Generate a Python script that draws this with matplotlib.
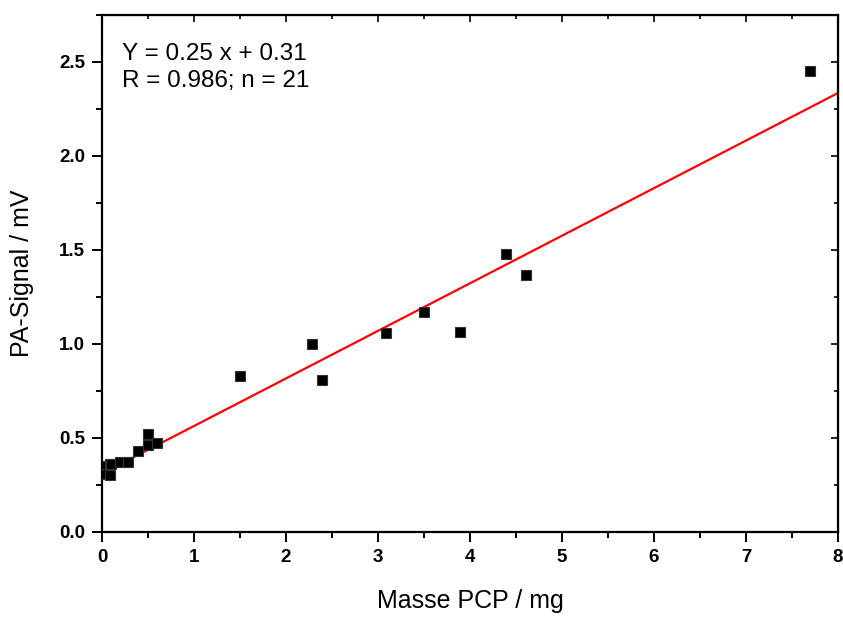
import numpy as np
import matplotlib.pyplot as plt
from matplotlib.ticker import MultipleLocator

plt.rcParams['font.family'] = ['Liberation Sans', 'DejaVu Sans']

# donnees
masse = [0.0, 0.01, 0.03, 0.09, 0.09, 0.1, 0.2, 0.28, 0.39, 0.5, 0.5, 0.6,
         1.5, 2.28, 2.39, 3.09, 3.5, 3.89, 4.39, 4.61, 7.7]
signal = [0.33, 0.35, 0.31, 0.36, 0.30, 0.36, 0.37, 0.37, 0.43, 0.52, 0.46, 0.47,
          0.83, 1.00, 0.81, 1.055, 1.17, 1.065, 1.48, 1.365, 2.45]
pente, ordonnee = 0.253, 0.31
x_fit = [0, 8]

fig = plt.figure(figsize=(8.43, 6.17), dpi=100)
ax = fig.add_axes([0.121, 0.138, 0.873, 0.838])

ax.plot(masse, signal, 's', color='k', markersize=7, markeredgecolor='#333333',
        markeredgewidth=0.8, zorder=3)
ax.plot(x_fit, [pente*v + ordonnee for v in x_fit], color='#ff0000', lw=1.6, zorder=2)

ax.set_xlim(0, 8)
ax.set_ylim(0, 2.75)
ax.xaxis.set_major_locator(MultipleLocator(1))
ax.xaxis.set_minor_locator(MultipleLocator(0.5))
ax.yaxis.set_major_locator(MultipleLocator(0.5))
ax.yaxis.set_minor_locator(MultipleLocator(0.25))
ax.yaxis.set_major_formatter(plt.FormatStrFormatter('%.1f'))

for s in ax.spines.values():
    s.set_linewidth(1.6)
ax.tick_params(which='both', direction='out', width=1.4, labelsize=13.5, pad=5)
ax.tick_params(which='major', length=7)
ax.tick_params(which='minor', length=4)
for lab in ax.get_xticklabels() + ax.get_yticklabels():
    lab.set_fontweight('bold')

# ticks du haut et de droite vers l'interieur
ax2 = ax.secondary_xaxis('top')
ax2.tick_params(which='both', direction='in', width=1.2, labeltop=False)
ax2.xaxis.set_major_locator(MultipleLocator(1))
ax2.xaxis.set_minor_locator(MultipleLocator(0.5))
ax2.tick_params(which='major', length=5)
ax2.tick_params(which='minor', length=3)
ax3 = ax.secondary_yaxis('right')
ax3.tick_params(which='both', direction='in', width=1.2, labelright=False)
ax3.yaxis.set_major_locator(MultipleLocator(0.5))
ax3.yaxis.set_minor_locator(MultipleLocator(0.25))
ax3.tick_params(which='major', length=5)
ax3.tick_params(which='minor', length=3)

ax.set_xlabel('Masse PCP / mg', fontsize=18, labelpad=17)
ax.set_ylabel('PA-Signal / mV', fontsize=18, labelpad=18)

ax.text(0.027, 0.945, 'Y = 0.25 x + 0.31\nR = 0.986; n = 21', transform=ax.transAxes,
        fontsize=17.5, va='top', ha='left', linespacing=1.3)

plt.savefig('out.png', dpi=100)
